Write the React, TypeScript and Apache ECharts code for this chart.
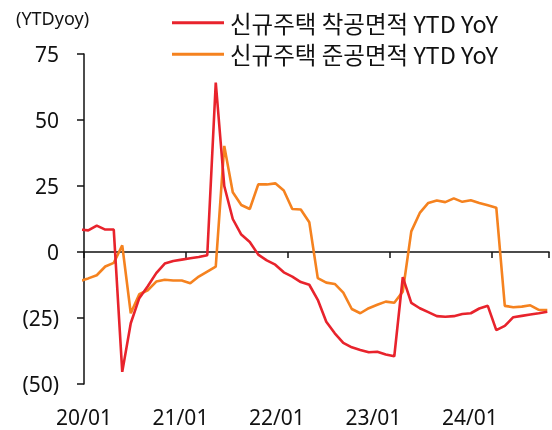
import React, { useEffect, useRef } from "react";
import * as echarts from "echarts";

// Months from 2019/12 to 2024/07 (first month partly outside the plot)
const months: string[] = [];
for (let y = 2019; y <= 2024; y++) {
  for (let m = 1; m <= 12; m++) {
    if (y === 2019 && m < 12) continue;
    if (y === 2024 && m > 7) continue;
    months.push(`${String(y).slice(2)}/${String(m).padStart(2, "0")}`);
  }
}

const startsYoY = [
  8.5, 8.2, 10.0, 8.5, 8.5, -45.4, -27, -17.5, -13, -8, -4.4, -3.4, -2.9,
  -2.4, -1.9, -1.2, 64.2, 25, 12.5, 6.6, 3.8, -1.0, -3.2, -4.8, -7.7, -9.3,
  -11.4, -12.4, -18.1, -26.4, -30.8, -34.4, -36.1, -37.1, -38.0, -37.8, -38.8,
  -39.5, -9.5, -19.3, -21.3, -22.8, -24.3, -24.5, -24.3, -23.5, -23.2, -21.4,
  -20.4, -29.6, -28, -24.7, -24.2, -23.7, -23.2, -22.6,
];

const completionsYoY = [
  -11, -10.0, -8.8, -5.5, -4.1, 2.5, -23.2, -16, -14.5, -11.2, -10.5, -10.8,
  -10.8, -11.8, -9.3, -7.4, -5.5, 40.2, 22.6, 17.8, 16.3, 25.6, 25.6, 26.0,
  23.3, 16.3, 16.1, 11.3, -9.9, -11.6, -12.1, -15.4, -21.6, -23.2, -21.3,
  -20.0, -18.8, -19.2, -15.0, 7.8, 14.8, 18.6, 19.5, 18.9, 20.3, 19.0, 19.6,
  18.6, 17.7, 16.8, -20.4, -20.9, -20.7, -20.2, -21.9, -22.0,
];

const xTickLabels = ["20/01", "21/01", "22/01", "23/01", "24/01"];
const seriesNames = ["신규주택 착공면적 YTD YoY", "신규주택 준공면적 YTD YoY"];
const unitLabel = "(YTDyoy)";

const RED = "#E8232C";
const ORANGE = "#F5821F";
const NUM_FONT = "Noto Sans";
const KR_FONT = "Noto Sans CJK KR";

// x = months since 2020-01-01, points at mid-month
const toPoints = (vals: number[]) => vals.map((v, k) => [k - 0.5, v]);

export default function App() {
  const ref = useRef<HTMLDivElement>(null);
  useEffect(() => {
    if (!ref.current) return;
    const chart = echarts.init(ref.current, undefined, { renderer: "svg" });
    chart.setOption({
      animation: false,
      title: {
        text: unitLabel,
        left: 11,
        top: 4,
        textStyle: { fontFamily: NUM_FONT, fontSize: 18, fontWeight: "normal", color: "#111" },
      },
      legend: {
        orient: "vertical",
        left: 167,
        top: 6,
        itemWidth: 52,
        itemHeight: 3,
        itemGap: 8,
        icon: "rect",
        textStyle: { fontFamily: KR_FONT, fontSize: 23.5, color: "#111", padding: [0, 0, 0, 1] },
        data: seriesNames,
      },
      grid: { left: 84, right: 1, top: 54, bottom: 46, containLabel: false },
      xAxis: [
        {
          type: "value",
          min: 0,
          max: 54.7,
          interval: 12,
          axisLine: { show: true, onZero: true, lineStyle: { color: "#111", width: 1.5 } },
          axisTick: { show: true, length: 6, lineStyle: { color: "#111", width: 1.5 } },
          axisLabel: { show: false },
          splitLine: { show: false },
        },
        {
          type: "value",
          position: "bottom",
          min: 0,
          max: 4.82,
          interval: 1,
          axisLine: { show: false, onZero: false },
          axisTick: { show: false },
          splitLine: { show: false },
          axisLabel: {
            show: true,
            margin: 22,
            fontFamily: NUM_FONT,
            fontSize: 21,
            color: "#111",
            formatter: (v: number) => (Number.isInteger(v) && xTickLabels[v] ? xTickLabels[v] : ""),
          },
        },
      ],
      yAxis: {
        type: "value",
        min: -50,
        max: 75,
        interval: 25,
        axisLine: { show: true, lineStyle: { color: "#111", width: 1.5 } },
        axisTick: { show: true, length: 7, lineStyle: { color: "#111", width: 1.5 } },
        splitLine: { show: false },
        axisLabel: {
          margin: 25,
          fontFamily: NUM_FONT,
          fontSize: 21,
          color: "#111",
          formatter: (v: number) => (v < 0 ? `(${Math.abs(v)})` : `${v}`),
        },
      },
      series: [
        {
          name: seriesNames[0],
          type: "line",
          xAxisIndex: 0,
          data: toPoints(startsYoY),
          showSymbol: false,
          symbol: "none",
          clip: true,
          lineStyle: { color: RED, width: 2.6 },
          itemStyle: { color: RED },
          z: 3,
        },
        {
          name: seriesNames[1],
          type: "line",
          xAxisIndex: 0,
          data: toPoints(completionsYoY),
          showSymbol: false,
          symbol: "none",
          clip: true,
          lineStyle: { color: ORANGE, width: 2.6 },
          itemStyle: { color: ORANGE },
          z: 2,
        },
      ],
    });
    return () => chart.dispose();
  }, []);
  return (
    <div
      ref={ref}
      style={{ position: "fixed", left: 0, top: 0, width: 552, height: 430 }}
    />
  );
}
